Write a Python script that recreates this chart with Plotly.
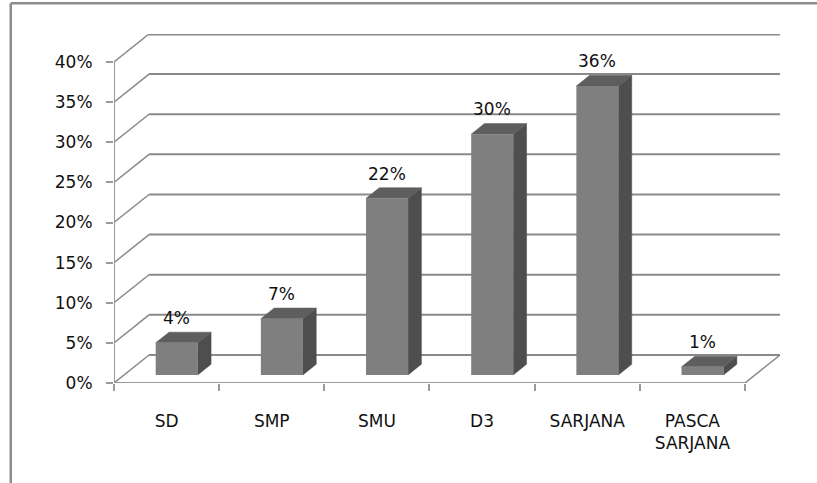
import plotly.graph_objects as go

# Education level distribution
categories = ["SD", "SMP", "SMU", "D3", "SARJANA", "PASCA<br>SARJANA"]
shares = [4, 7, 22, 30, 36, 1]  # percent
y_ticks = [0, 5, 10, 15, 20, 25, 30, 35, 40]

# Pseudo-3D geometry (data units): depth of the back wall and bar placement
DEPTH_X = 0.333
DEPTH_Y = 3.49
BAR_FRONT = 0.29   # fraction of depth where bar front face sits
BAR_BACK = 0.67    # fraction of depth where bar back face sits
BAR_W = 0.40

FRONT = "#7f7f7f"
TOP = "#5e5e5e"
SIDE = "#4e4e4e"
GRID = "#8a8a8a"
AXIS = "#9a9a9a"
FONT = dict(family="DejaVu Sans", size=17, color="#111111")

n = len(categories)
xs = list(range(n))
x_lo, x_hi = -0.5, n - 0.5
y_top = max(y_ticks)

fx = BAR_FRONT * DEPTH_X
fy = BAR_FRONT * DEPTH_Y
dd = BAR_BACK - BAR_FRONT
ddx, ddy = dd * DEPTH_X, dd * DEPTH_Y

shapes = []

# Back wall gridlines with their diagonal run to the front axis
for v in y_ticks:
    w = 3 if v == y_top else 2
    shapes.append(dict(type="line", xref="x", yref="y", layer="below",
                       x0=x_lo, y0=v, x1=x_lo + DEPTH_X, y1=v + DEPTH_Y,
                       line=dict(color=GRID, width=1.5)))
    shapes.append(dict(type="line", xref="x", yref="y", layer="below",
                       x0=x_lo + DEPTH_X, y0=v + DEPTH_Y, x1=x_hi + DEPTH_X, y1=v + DEPTH_Y,
                       line=dict(color=GRID, width=w)))

# Floor right edge
shapes.append(dict(type="line", xref="x", yref="y", layer="below",
                   x0=x_hi, y0=0, x1=x_hi + DEPTH_X, y1=DEPTH_Y,
                   line=dict(color=GRID, width=1.5)))
# Front axes
shapes.append(dict(type="line", xref="x", yref="y", layer="below",
                   x0=x_lo, y0=0, x1=x_hi, y1=0, line=dict(color=AXIS, width=2)))
shapes.append(dict(type="line", xref="x", yref="y", layer="below",
                   x0=x_lo, y0=0, x1=x_lo, y1=y_top, line=dict(color=AXIS, width=2)))

# Bar top and side faces
for i, v in zip(xs, shares):
    xl = i + fx - BAR_W / 2
    xr = i + fx + BAR_W / 2
    b = fy
    t = fy + v
    side = f"M {xr},{b} L {xr},{t} L {xr + ddx},{t + ddy} L {xr + ddx},{b + ddy} Z"
    top = f"M {xl},{t} L {xr},{t} L {xr + ddx},{t + ddy} L {xl + ddx},{t + ddy} Z"
    shapes.append(dict(type="path", xref="x", yref="y", layer="below", path=side,
                       fillcolor=SIDE, line=dict(color=SIDE, width=0.5)))
    shapes.append(dict(type="path", xref="x", yref="y", layer="below", path=top,
                       fillcolor=TOP, line=dict(color=TOP, width=0.5)))

# Chart area frame
shapes.append(dict(type="line", xref="paper", yref="paper",
                   x0=-0.155, y0=1.088, x1=1.1, y1=1.088, line=dict(color="#8c8c8c", width=2.5)))
shapes.append(dict(type="line", xref="paper", yref="paper",
                   x0=-0.155, y0=1.088, x1=-0.155, y1=-0.3, line=dict(color="#8c8c8c", width=2.5)))

fig = go.Figure()
fig.add_trace(go.Bar(
    x=xs, y=shares, base=[fy] * n, width=BAR_W, offset=fx - BAR_W / 2,
    marker=dict(color=FRONT, line=dict(width=0)), hoverinfo="skip",
))

annotations = [
    dict(x=i + fx, y=fy + v + ddy, xref="x", yref="y", text=f"{v}%",
         showarrow=False, yanchor="bottom", yshift=2, font=FONT)
    for i, v in zip(xs, shares)
]

fig.update_layout(
    width=817, height=483,
    margin=dict(l=114, r=37, t=34, b=100),
    paper_bgcolor="white", plot_bgcolor="white",
    showlegend=False, shapes=shapes, annotations=annotations,
    font=FONT,
    xaxis=dict(range=[x_lo, x_hi + DEPTH_X], showgrid=False, zeroline=False, showline=False,
               tickmode="array", tickvals=xs, ticktext=categories, ticks="",
               ticklabelstandoff=26, tickfont=FONT,
               minor=dict(tickmode="linear", tick0=x_lo, dtick=1, ticks="outside",
                          ticklen=7, tickwidth=2, tickcolor=AXIS, showgrid=False)),
    yaxis=dict(range=[0, y_top + DEPTH_Y], showgrid=False, zeroline=False, showline=False,
               tickmode="array", tickvals=y_ticks, ticktext=[f"{v}%" for v in y_ticks],
               ticks="outside", ticklen=7, tickwidth=2, tickcolor=AXIS,
               ticklabelstandoff=10, tickfont=FONT),
)

fig.write_html("out.html")
